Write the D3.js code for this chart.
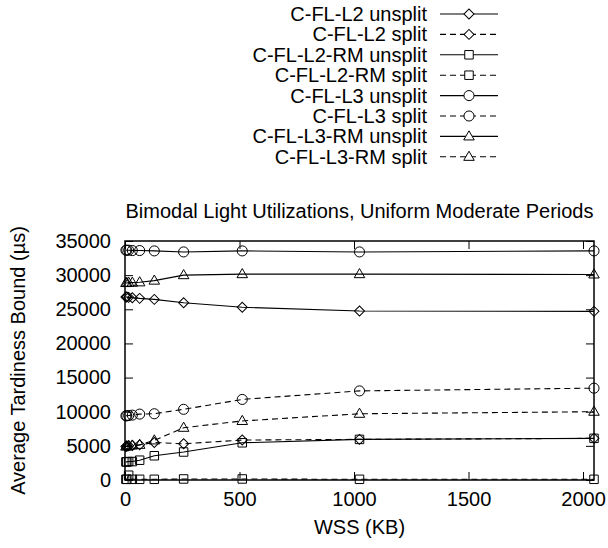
<!DOCTYPE html>
<html><head><meta charset="utf-8">
<script src="https://cdn.jsdelivr.net/npm/d3@7"></script>
<style>
html,body{margin:0;padding:0;background:#fff;}
svg{display:block;font-family:"Liberation Sans",Arial,Helvetica,sans-serif;}
</style></head>
<body><svg id="c" width="608" height="548"></svg>
<script>
const wss = [4, 8, 16, 32, 64, 128, 256, 512, 1024, 2048];
const seriesNames = ["C-FL-L2 unsplit","C-FL-L2 split","C-FL-L2-RM unsplit","C-FL-L2-RM split",
                     "C-FL-L3 unsplit","C-FL-L3 split","C-FL-L3-RM unsplit","C-FL-L3-RM split"];
const l2Unsplit   = [26800, 26800, 26750, 26700, 26600, 26450, 25950, 25300, 24750, 24700];
const l2Split     = [4900, 4950, 5000, 5050, 5150, 5500, 5300, 5850, 5950, 6100];
const l2rmUnsplit = [2650, 2650, 2700, 2700, 2900, 3550, 4100, 5450, 5950, 6100];
const l2rmSplit   = [100, 100, 700, 100, 100, 100, 150, 150, 100, 100];
const l3Unsplit   = [33650, 33650, 33650, 33600, 33600, 33550, 33400, 33550, 33400, 33550];
const l3Split     = [9400, 9400, 9450, 9500, 9650, 9700, 10350, 11800, 13050, 13450];
const l3rmUnsplit = [28850, 28850, 28900, 28900, 28950, 29200, 30000, 30150, 30150, 30100];
const l3rmSplit   = [4900, 4950, 5000, 5050, 5150, 5800, 7650, 8650, 9700, 10000];
const seriesValues = [l2Unsplit,l2Split,l2rmUnsplit,l2rmSplit,l3Unsplit,l3Split,l3rmUnsplit,l3rmSplit];
const seriesMarker = ["diamond","diamond","square","square","circle","circle","triangle","triangle"];
const seriesDashed = [false,true,false,true,false,true,false,true];
const xTicks = [0, 500, 1000, 1500, 2000];
const yTicks = [0, 5000, 10000, 15000, 20000, 25000, 30000, 35000];
const title = "Bimodal Light Utilizations, Uniform Moderate Periods";
const xLabel = "WSS (KB)";
const yLabel = "Average Tardiness Bound (µs)";

const svg = d3.select("#c");
const L = 125, R = 594, T = 241, B = 480;
const x = d3.scaleLinear().domain([0, 2048]).range([L, R]);
const y = d3.scaleLinear().domain([0, 35000]).range([B, T]);
const FS = 20;
const col = "#000";

function markerPath(type){
  if(type==="circle") return d3.symbol(d3.symbolCircle, 80)();
  if(type==="square") return d3.symbol(d3.symbolSquare, 72)();
  if(type==="diamond") return d3.symbol(d3.symbolSquare, 50)();
  return d3.symbol(d3.symbolTriangle, 48)();
}
function markerTransform(type, px, py){
  if(type==="diamond") return `translate(${px},${py}) rotate(45)`;
  if(type==="triangle") return `translate(${px},${py+0.5})`;
  return `translate(${px},${py})`;
}

// axes with inward ticks and mirrored
const ax = svg.append("g");
ax.append("g").attr("transform",`translate(0,${B})`)
  .call(d3.axisBottom(x).tickValues(xTicks).tickSizeInner(-8).tickSizeOuter(0).tickPadding(12).tickFormat(d3.format("d")));
ax.append("g").attr("transform",`translate(0,${T})`)
  .call(d3.axisTop(x).tickValues(xTicks).tickSizeInner(-8).tickSizeOuter(0).tickFormat(""));
ax.append("g").attr("transform",`translate(${L},0)`)
  .call(d3.axisLeft(y).tickValues(yTicks).tickSizeInner(-8).tickSizeOuter(0).tickPadding(14).tickFormat(d3.format("d")));
ax.append("g").attr("transform",`translate(${R},0)`)
  .call(d3.axisRight(y).tickValues(yTicks).tickSizeInner(-8).tickSizeOuter(0).tickFormat(""));
ax.selectAll(".domain").remove();
ax.selectAll("line").attr("stroke",col).attr("stroke-width",1);
ax.selectAll("text").attr("font-size",FS).attr("font-family","Liberation Sans, Arial, sans-serif").attr("fill","#000");
svg.append("rect").attr("x",L).attr("y",T).attr("width",R-L).attr("height",B-T)
  .attr("fill","none").attr("stroke","#000").attr("stroke-width",1.5);

// series
const line = d3.line().x(d=>x(d[0])).y(d=>y(d[1]));
seriesValues.forEach((vals,i)=>{
  const pts = wss.map((w,j)=>[w, vals[j]]);
  const g = svg.append("g");
  g.append("path").attr("d", line(pts)).attr("fill","none").attr("stroke",col)
    .attr("stroke-width",1.1).attr("stroke-dasharray", seriesDashed[i] ? "6,4" : null);
  g.selectAll("path.m").data(pts).join("path").attr("class","m")
    .attr("d", markerPath(seriesMarker[i]))
    .attr("transform", d=>markerTransform(seriesMarker[i], x(d[0]), y(d[1])))
    .attr("fill","none").attr("stroke",col).attr("stroke-width",1);
});

// legend
const legX = 427, lineX0 = 440, lineX1 = 498, legY0 = 14, legDY = 20.4;
seriesNames.forEach((name,i)=>{
  const yy = legY0 + i*legDY;
  svg.append("text").attr("x",legX).attr("y",yy).attr("dy","0.35em").attr("text-anchor","end")
    .attr("font-size",FS).text(name);
  svg.append("line").attr("x1",lineX0).attr("x2",lineX1).attr("y1",yy).attr("y2",yy)
    .attr("stroke",col).attr("stroke-width",1.1).attr("stroke-dasharray", seriesDashed[i] ? "6,4" : null);
  svg.append("path").attr("d", markerPath(seriesMarker[i]))
    .attr("transform", markerTransform(seriesMarker[i], (lineX0+lineX1)/2, yy))
    .attr("fill","#fff").attr("stroke",col).attr("stroke-width",1);
});

// title and labels
svg.append("text").attr("x",(L+R)/2).attr("y",211).attr("dy","0.35em").attr("text-anchor","middle")
  .attr("font-size",FS).text(title);
svg.append("text").attr("x",(L+R)/2).attr("y",527).attr("dy","0.35em").attr("text-anchor","middle")
  .attr("font-size",FS).text(xLabel);
svg.append("text").attr("transform",`translate(18,${(T+B)/2}) rotate(-90)`).attr("dy","0.35em")
  .attr("text-anchor","middle").attr("font-size",FS).text(yLabel);
</script></body></html>
